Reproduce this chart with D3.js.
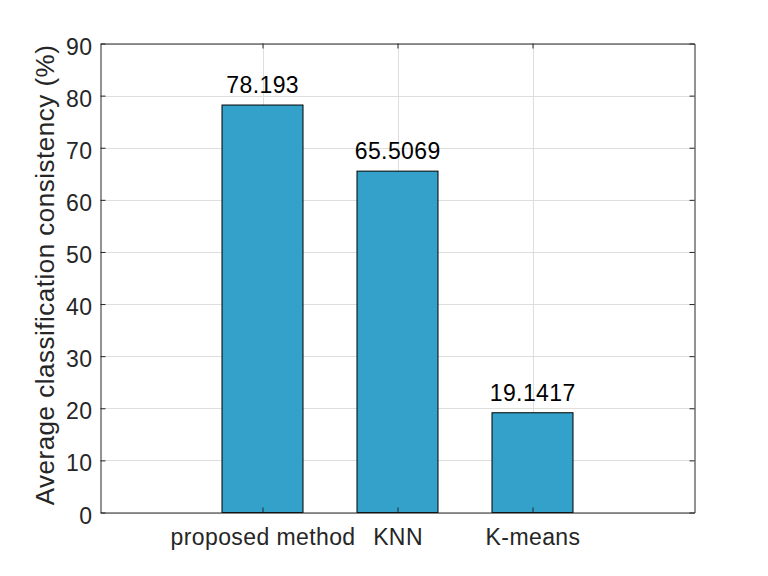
<!DOCTYPE html>
<html><head><meta charset="utf-8">
<script src="https://cdn.jsdelivr.net/npm/d3@7"></script>
<style>body{margin:0;background:#fff}svg{display:block}</style>
</head><body>
<svg id="chart" width="768" height="576"></svg>
<script>
const categories = ["proposed method", "KNN", "K-means"];
const positions = [1, 2, 3];
const values = [78.193, 65.5069, 19.1417];
const valueLabels = ["78.193", "65.5069", "19.1417"];
const yTicks = [0, 10, 20, 30, 40, 50, 60, 70, 80, 90];
const yLabel = "Average classification consistency (%)";

const svg = d3.select("#chart");
const L = 100.5, R = 694.5, T = 43.5, B = 512.5;
const x = d3.scaleLinear().domain([-0.2, 4.2]).range([L, R]);
const y = d3.scaleLinear().domain([0, 90]).range([B, T]);
const axisColor = "#262626";
const font = "'Liberation Sans', Arial, Helvetica, sans-serif";
const fs = 23, ls = 0.4;
const barW = (x(1.3) - x(0.7));

// grid
const g = svg.append("g");
g.selectAll(".gy").data(yTicks).enter().append("line")
  .attr("x1", L).attr("x2", R)
  .attr("y1", d => Math.round(y(d)) + 0.5).attr("y2", d => Math.round(y(d)) + 0.5)
  .attr("stroke", "#dedede").attr("stroke-width", 1);
g.selectAll(".gx").data(positions).enter().append("line")
  .attr("x1", d => Math.round(x(d)) + 0.5).attr("x2", d => Math.round(x(d)) + 0.5)
  .attr("y1", T).attr("y2", B)
  .attr("stroke", "#dedede").attr("stroke-width", 1);

// bars
svg.selectAll(".bar").data(values).enter().append("rect")
  .attr("x", (d, i) => x(positions[i]) - barW / 2)
  .attr("width", barW)
  .attr("y", d => y(d))
  .attr("height", d => y(0) - y(d))
  .attr("fill", "#33a1c9").attr("stroke", "#000").attr("stroke-width", 1);

// value labels
svg.selectAll(".vl").data(values).enter().append("text")
  .attr("x", (d, i) => x(positions[i]) + ls / 2)
  .attr("y", d => y(d) - 12)
  .attr("text-anchor", "middle")
  .attr("font-family", font).attr("font-size", fs).attr("letter-spacing", ls).attr("fill", "#000")
  .text((d, i) => valueLabels[i]);

// axes
const axB = d3.axisBottom(x).tickValues(positions).tickFormat((d, i) => categories[i]).tickSizeInner(-5).tickSizeOuter(0).tickPadding(16);
const axT = d3.axisTop(x).tickValues(positions).tickFormat("").tickSizeInner(-5).tickSizeOuter(0);
const axL = d3.axisLeft(y).tickValues(yTicks).tickSizeInner(-5).tickSizeOuter(0).tickPadding(8);
const axR = d3.axisRight(y).tickValues(yTicks).tickFormat("").tickSizeInner(-5).tickSizeOuter(0);

function style(sel) {
  sel.selectAll("path").attr("stroke", axisColor);
  sel.selectAll("line").attr("stroke", axisColor);
  sel.selectAll("text").attr("fill", axisColor).attr("font-family", font)
    .attr("font-size", fs).attr("letter-spacing", ls);
}
svg.append("g").attr("transform", `translate(0,${B})`).call(axB).call(style);
svg.append("g").attr("transform", `translate(0,${T})`).call(axT).call(style);
const gl = svg.append("g").attr("transform", `translate(${L},0)`).call(axL).call(style);
gl.selectAll("text").attr("dy", "0.46em");
svg.append("g").attr("transform", `translate(${R},0)`).call(axR).call(style);

svg.append("text")
  .attr("transform", `translate(54,${(T + B) / 2 - 3}) rotate(-90)`)
  .attr("text-anchor", "middle")
  .attr("font-family", font).attr("font-size", 26).attr("letter-spacing", 0.5).attr("fill", axisColor)
  .text(yLabel);
</script>
</body></html>
